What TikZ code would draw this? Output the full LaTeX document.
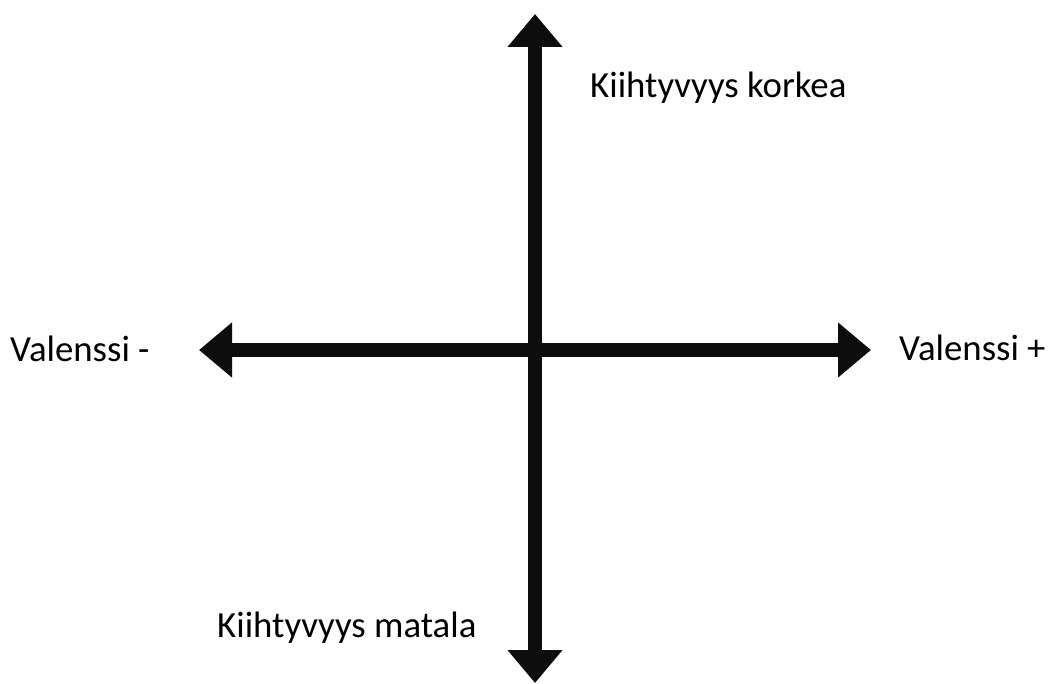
\documentclass[tikz,border=0pt]{standalone}
\usepackage{fontspec}
\setmainfont{Carlito}
\usetikzlibrary{arrows.meta}
\definecolor{axiscol}{RGB}{13,13,13}
\begin{document}
\begin{tikzpicture}[x=1pt,y=-1pt,
  axisline/.style={draw=axiscol,line width=14pt,{Triangle[length=33pt,width=53pt]}-{Triangle[length=33pt,width=53pt]}},
  lbl/.style={anchor=base west,inner sep=0pt,font=\fontsize{36.8}{42}\selectfont,text=black}]
\useasboundingbox (0,0) rectangle (1048,684);
\coordinate (top) at (535,14);
\coordinate (bottom) at (535,683);
\coordinate (left) at (199,350);
\coordinate (right) at (871,350);
\draw[axisline] (bottom) -- (top);
\draw[axisline] (left) -- (right);
\node[lbl] (high) at (590,98) {Kiihtyvyys korkea};
\node[lbl] (neg) at (10,361) {Valenssi -};
\node[lbl] (pos) at (899,360) {Valenssi +};
\node[lbl] (low) at (217,637) {Kiihtyvyys matala};
\end{tikzpicture}
\end{document}
